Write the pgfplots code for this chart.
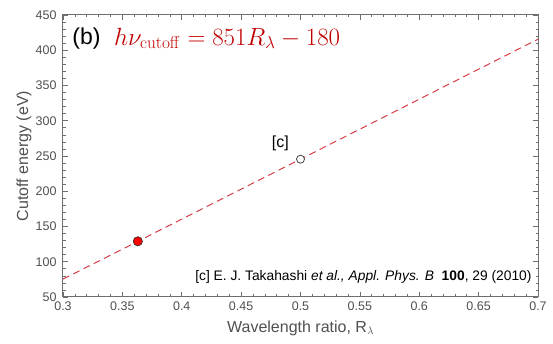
\documentclass[border=0pt]{standalone}
\usepackage{pgfplots}
\pgfplotsset{compat=1.18}
\usepackage[no-math]{fontspec}
\setmainfont{Liberation Sans}
\definecolor{eqred}{RGB}{192,0,0}
\definecolor{linered}{RGB}{214,60,70}
\definecolor{tickgray}{RGB}{80,80,80}
\definecolor{axgray}{RGB}{110,110,110}
\begin{document}
\begin{tikzpicture}
\begin{axis}[
  scale only axis,
  width=475pt, height=282pt,
  xmin=0.3, xmax=0.7, ymin=50, ymax=450,
  xtick={0.3,0.35,0.4,0.45,0.5,0.55,0.6,0.65,0.7},
  ytick={50,100,...,450},
  xticklabels={0.3,0.35,0.4,0.45,0.5,0.55,0.6,0.65,0.7},
  minor x tick num=4,
  minor y tick num=4,
  tick align=inside,
  major tick length=5pt,
  minor tick length=2.5pt,
  every tick/.style={axgray, line width=0.6pt},
  axis line style={axgray, line width=1pt},
  tick label style={font=\fontsize{12.5}{14}\selectfont, text=tickgray},
  yticklabel style={xshift=-3pt},
  xticklabel style={yshift=-1pt},
  /pgf/number format/assume math mode=true,
  xlabel={Wavelength ratio, R$_\lambda$},
  ylabel={Cutoff energy (eV)},
  every axis x label/.style={at={(axis description cs:0.5,-0.11)}, anchor=center, font=\fontsize{16}{18}\selectfont, text=tickgray},
  every axis y label/.style={at={(axis description cs:-0.082,0.5)}, rotate=90, anchor=center, font=\fontsize{16}{18}\selectfont, text=tickgray},
]
\addplot[linered, dash pattern=on 7pt off 4.5pt, line width=1pt] coordinates {(0.3,75.3) (0.7,415.7)};
\addplot[only marks, mark=*, mark size=4.6pt, mark options={fill=red, draw=black!80, line width=0.7pt}] coordinates {(0.363,129)};
\addplot[only marks, mark=*, mark size=4pt, mark options={draw=black!75, fill=white, line width=0.8pt}] coordinates {(0.5,245.5)};
\node[anchor=west, font=\fontsize{23}{25}\selectfont] at (axis cs:0.305,417) {(b)};
\node[anchor=west, text=eqred, font=\fontsize{25}{27}\selectfont] at (axis cs:0.34,417) {$h\nu_{\mathrm{cutoff}} = 851R_\lambda - 180$};
\node[anchor=center, font=\fontsize{16}{18}\selectfont] at (axis cs:0.483,268) {[c]};
\node[anchor=east, font=\fontsize{13.8}{15}\selectfont] at (axis cs:0.6975,79) {[c] E. J. Takahashi \textit{et al., Appl. Phys. B}\ \ \textbf{100}, 29 (2010)};
\end{axis}
\pgfresetboundingbox
\path (current axis.south west) ++(-63pt,-47pt) coordinate (bbA);
\path (current axis.north east) ++(15pt,15pt) coordinate (bbB);
\useasboundingbox (bbA) rectangle (bbB);
\end{tikzpicture}
\end{document}
